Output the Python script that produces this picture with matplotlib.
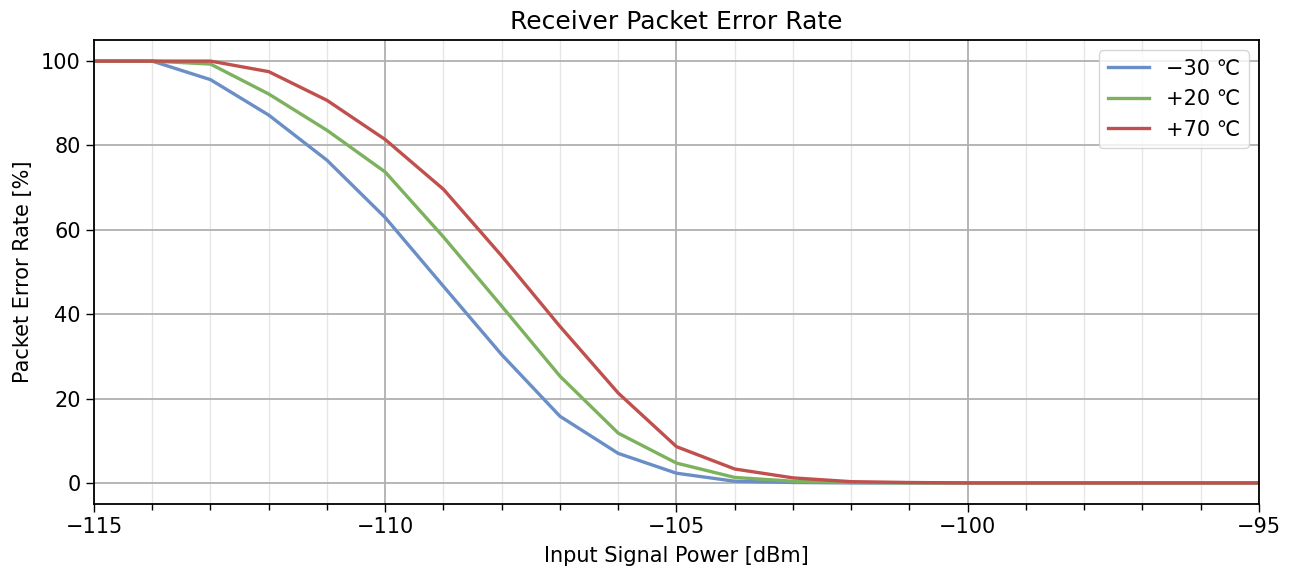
import matplotlib.pyplot as plt
import numpy as np
from matplotlib.ticker import MultipleLocator

# input power [dBm]
power = np.arange(-115, -94, 1)

# packet error rate [%] per temperature
per_m30 = [100, 100, 95.6, 87.2, 76.5, 62.9, 46.6, 30.4, 15.8, 7.0, 2.3,
           0.4, 0.1, 0, 0, 0, 0, 0, 0, 0, 0]
per_p20 = [100, 100, 99.3, 92.2, 83.6, 73.7, 58.3, 41.9, 25.3, 11.8, 4.7,
           1.3, 0.4, 0.1, 0, 0, 0, 0, 0, 0, 0]
per_p70 = [100, 100, 100, 97.5, 90.7, 81.4, 69.6, 53.8, 37.1, 21.3, 8.6,
           3.3, 1.2, 0.3, 0.1, 0, 0, 0, 0, 0, 0]

labels = ['\u221230 \u2103', '+20 \u2103', '+70 \u2103']
colors = ['#6a8ec6', '#7cb15e', '#c0504d']

fig = plt.figure(figsize=(12.91, 5.69), dpi=100)
ax = fig.add_axes([0.0728, 0.1142, 0.9024, 0.8155])

for vals, lab, col in zip([per_m30, per_p20, per_p70], labels, colors):
    ax.plot(power, vals, label=lab, color=col, linewidth=2.4)

ax.set_xlim(-115, -95)
ax.set_ylim(-5, 105)
ax.xaxis.set_major_locator(MultipleLocator(5))
ax.xaxis.set_minor_locator(MultipleLocator(1))
ax.yaxis.set_major_locator(MultipleLocator(20))
ax.grid(which='major', color='#b0b0b0', linewidth=1.3)
ax.grid(which='minor', axis='x', color='#e6e6e6', linewidth=1.0)
ax.set_axisbelow(True)
ax.tick_params(labelsize=15, length=6, width=1.0)
ax.tick_params(which='minor', length=4, width=1.0)
for s in ax.spines.values():
    s.set_linewidth(1.3)

ax.set_xlabel('Input Signal Power [dBm]', fontsize=15, labelpad=6)
ax.set_ylabel('Packet Error Rate [%]', fontsize=15, labelpad=5.5)
ax.set_title('Receiver Packet Error Rate', fontsize=18, pad=8)
ax.legend(loc='upper right', fontsize=15)

fig.savefig('out.png', dpi=100)
